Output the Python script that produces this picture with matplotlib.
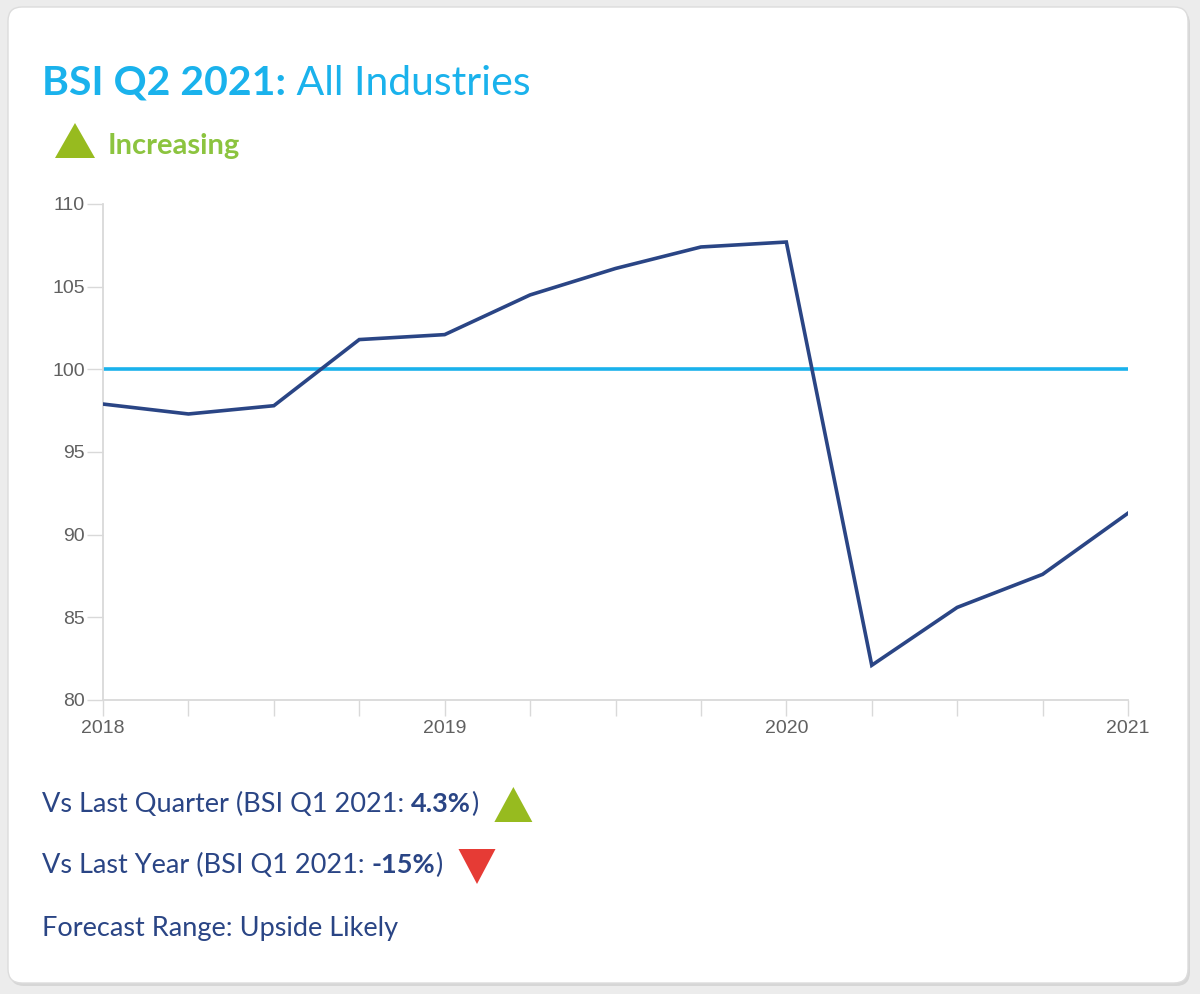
import numpy as np
import matplotlib.pyplot as plt
from matplotlib.patches import FancyBboxPatch, Polygon

# ---- data ----
quarters = ["2018 Q1", "2018 Q2", "2018 Q3", "2018 Q4",
            "2019 Q1", "2019 Q2", "2019 Q3", "2019 Q4",
            "2020 Q1", "2020 Q2", "2020 Q3", "2020 Q4", "2021 Q1"]
bsi = [97.9, 97.3, 97.8, 101.8, 102.1, 104.5, 106.1, 107.4,
       107.7, 82.1, 85.6, 87.6, 91.3]
baseline = 100
year_ticks = [2018, 2019, 2020, 2021]
y_ticks = [80, 85, 90, 95, 100, 105, 110]

qpos = [int(q[:4]) + (int(q[-1]) - 1) / 4 for q in quarters]

DARK = "#2a4585"
LIGHT_BLUE = "#1ab2ec"
GREEN = "#97bb1f"
GREEN_TXT = "#8cc43f"
RED = "#e63b35"
TICK = "#606060"
GRID = "#d9d9d9"

plt.rcParams['font.family'] = ['Lato', 'DejaVu Sans']

fig = plt.figure(figsize=(12, 9.94), dpi=100, facecolor="#ececec")

# overlay axes in pixel coords for the card + texts
bg = fig.add_axes([0, 0, 1, 1], zorder=-1)
bg.set_xlim(0, 1200)
bg.set_ylim(994, 0)
bg.axis("off")
bg.add_patch(FancyBboxPatch((10, 10), 1180, 976, boxstyle="round,pad=0,rounding_size=14",
                            fc="#d6d6d6", ec="none"))
bg.add_patch(FancyBboxPatch((8, 7), 1180, 976, boxstyle="round,pad=0,rounding_size=14",
                            fc="white", ec="#dcdcdc", lw=1))

fig.canvas.draw()
renderer = fig.canvas.get_renderer()


def pieces(x, y, parts, size, color):
    # draw consecutive text runs on one baseline, return end x
    for txt, weight in parts:
        t = bg.text(x, y, txt, fontsize=size, color=color, fontweight=weight,
                    ha="left", va="baseline")
        x += t.get_window_extent(renderer).width
    return x


# title
pieces(42, 95, [("BSI Q2 2021:", "bold"), (" All Industries", "normal")], 29.5, LIGHT_BLUE)

# increasing marker
bg.add_patch(Polygon([(55, 158), (95, 158), (75, 123)], closed=True, fc=GREEN, ec="none"))
bg.text(108, 154, "Increasing", fontsize=21, color=GREEN_TXT, fontweight="bold",
        ha="left", va="baseline")

# bottom stats
fs = 19.5
end = pieces(42, 812, [("Vs Last Quarter (BSI Q1 2021: ", "normal"), ("4.3%", "bold"),
                       (")", "normal")], fs, DARK)
bg.add_patch(Polygon([(end + 16, 822), (end + 54, 822), (end + 35, 787)],
                     closed=True, fc=GREEN, ec="none"))
end = pieces(42, 873, [("Vs Last Year (BSI Q1 2021: ", "normal"), ("-15%", "bold"),
                       (")", "normal")], fs, DARK)
bg.add_patch(Polygon([(end + 16, 849), (end + 53, 849), (end + 34.5, 884)],
                     closed=True, fc=RED, ec="none"))
pieces(42, 936, [("Forecast Range: Upside Likely", "normal")], fs, DARK)

# ---- chart ----
ax = fig.add_axes([103 / 1200, 1 - 700 / 994, 1025 / 1200, 496 / 994])
ax.set_facecolor("none")
ax.axhline(baseline, color=LIGHT_BLUE, lw=2.6, zorder=2)
ax.plot(qpos, bsi, color=DARK, lw=2.6, zorder=3, solid_joinstyle="miter")

ax.set_xlim(2018, 2021)
ax.set_ylim(80, 110)
ax.set_yticks(y_ticks)
ax.set_xticks(year_ticks)
ax.set_xticks(qpos, minor=True)
ax.set_xticklabels([str(y) for y in year_ticks])

for s in ["top", "right"]:
    ax.spines[s].set_visible(False)
for s in ["left", "bottom"]:
    ax.spines[s].set_color(GRID)
    ax.spines[s].set_linewidth(1.3)

ax.tick_params(axis="x", which="both", length=11.5, width=1, color=GRID,
               labelsize=14, labelcolor=TICK, pad=3)
ax.tick_params(axis="y", length=11.5, width=1, color=GRID,
               labelsize=14, labelcolor=TICK, pad=1.5)
for lab in ax.get_xticklabels() + ax.get_yticklabels():
    lab.set_family(["Liberation Sans", "DejaVu Sans"])

fig.savefig("out.png", dpi=100, facecolor=fig.get_facecolor())
